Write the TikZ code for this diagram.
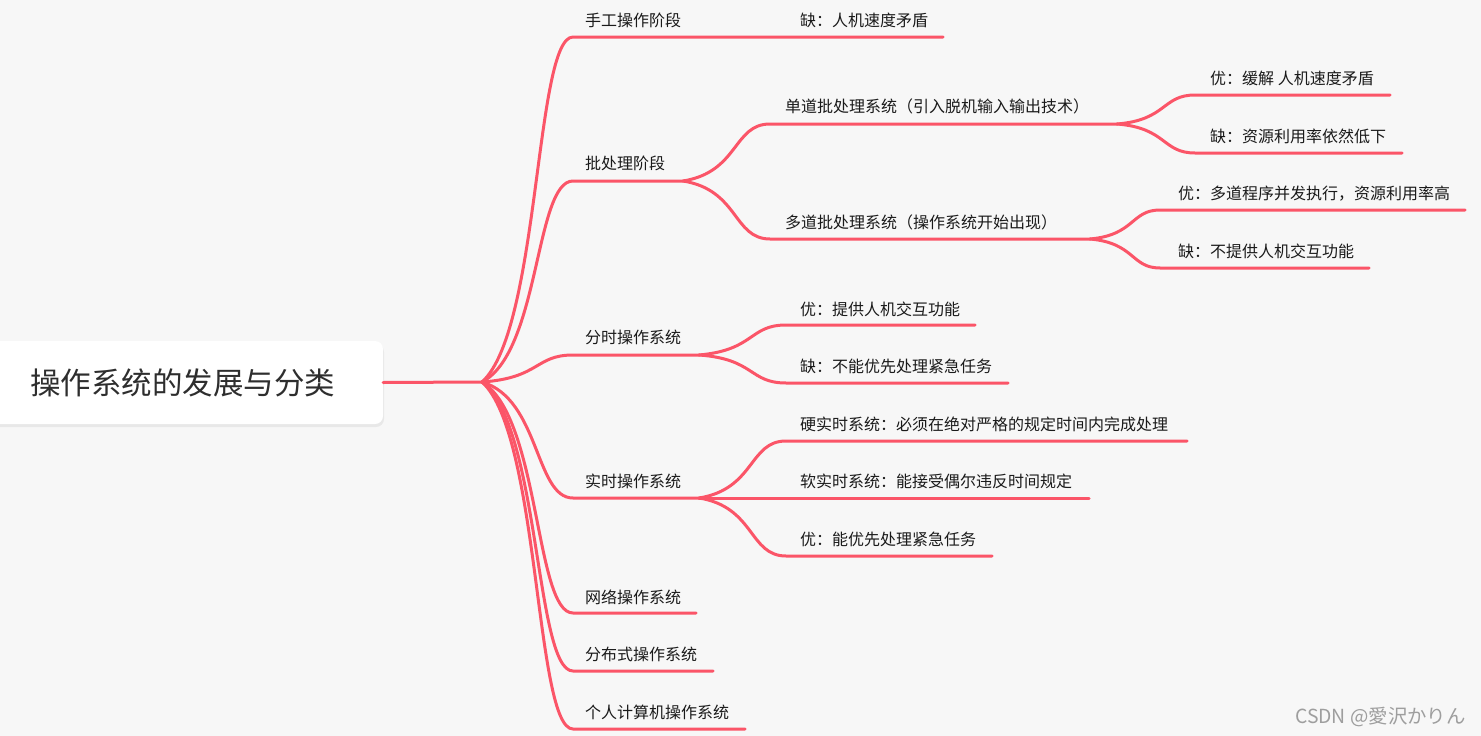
\documentclass[tikz,border=0pt]{standalone}
\usepackage{fontspec}
\setmainfont{Noto Sans CJK SC}
\newfontfamily\jpfont{Noto Sans CJK JP}
\definecolor{bg}{HTML}{F7F7F7}
\definecolor{branchc}{HTML}{FB5568}
\definecolor{txt}{HTML}{1A1A1A}
\begin{document}
\begin{tikzpicture}[x=1pt,y=-1pt,
  branch/.style={draw=branchc, line width=3pt, line cap=round},
  lbl/.style={anchor=base west, inner sep=0pt, text=txt, font=\fontsize{16}{16}\selectfont},
  rootbox/.style={fill=white, rounded corners=8pt, minimum width=400pt, minimum height=83pt, inner sep=0pt, text=black!82, font=\fontsize{30.5}{30.5}\selectfont},
  wmark/.style={anchor=base west, inner sep=0pt, text=black!38, font=\jpfont\fontsize{19.4}{19.4}\selectfont}]
\fill[bg] (0,0) rectangle (1481,736);
\useasboundingbox (0,0) rectangle (1481,736);
% root
\fill[black, opacity=0.06, rounded corners=8pt] (-20,344) rectangle (384,427);
\node[rootbox] (root) at (183,382.5) {操作系统的发展与分类};
\coordinate (hub) at (482,382);
% labels
\node[lbl] (n1) at (585,26) {手工操作阶段};
\node[lbl] (n1a) at (800,26) {缺：人机速度矛盾};
\node[lbl] (n2) at (585,169) {批处理阶段};
\node[lbl] (n21) at (785,112) {单道批处理系统（引入脱机输入输出技术）};
\node[lbl] (n211) at (1210,84) {优：缓解 人机速度矛盾};
\node[lbl] (n212) at (1210,142) {缺：资源利用率依然低下};
\node[lbl] (n22) at (785,228) {多道批处理系统（操作系统开始出现）};
\node[lbl] (n221) at (1178,199) {优：多道程序并发执行，资源利用率高};
\node[lbl] (n222) at (1178,257) {缺：不提供人机交互功能};
\node[lbl] (n3) at (585,343) {分时操作系统};
\node[lbl] (n31) at (800,315) {优：提供人机交互功能};
\node[lbl] (n32) at (800,372) {缺：不能优先处理紧急任务};
\node[lbl] (n4) at (585,487) {实时操作系统};
\node[lbl] (n41) at (800,430) {硬实时系统：必须在绝对严格的规定时间内完成处理};
\node[lbl] (n42) at (800,487) {软实时系统：能接受偶尔违反时间规定};
\node[lbl] (n43) at (800,545) {优：能优先处理紧急任务};
\node[lbl] (n5) at (585,603) {网络操作系统};
\node[lbl] (n6) at (585,660) {分布式操作系统};
\node[lbl] (n7) at (585,718) {个人计算机操作系统};
\node[wmark] (wm) at (1295,723) {CSDN @愛沢かりん};
% underline coordinates
\coordinate (s1) at (573,37); \coordinate (e1) at (943,37);
\coordinate (s2) at (573,181); \coordinate (f2) at (683,181);
\coordinate (s21) at (770,124); \coordinate (f21) at (1117,124);
\coordinate (s211) at (1195,95); \coordinate (e211) at (1390,95);
\coordinate (s212) at (1195,153); \coordinate (e212) at (1402,153);
\coordinate (s22) at (770,239); \coordinate (f22) at (1090,239);
\coordinate (s221) at (1160,210); \coordinate (e221) at (1465,210);
\coordinate (s222) at (1160,268); \coordinate (e222) at (1369,268);
\coordinate (s3) at (573,355); \coordinate (f3) at (699,355);
\coordinate (s31) at (786,325); \coordinate (e31) at (975,325);
\coordinate (s32) at (786,383); \coordinate (e32) at (1008,383);
\coordinate (s4) at (573,498); \coordinate (f4) at (699,498);
\coordinate (s41) at (786,441); \coordinate (e41) at (1187,441);
\coordinate (e42) at (1089,498);
\coordinate (s43) at (786,556); \coordinate (e43) at (992,556);
\coordinate (s5) at (573,613); \coordinate (e5) at (696,613);
\coordinate (s6) at (573,671); \coordinate (e6) at (713,671);
\coordinate (s7) at (573,729); \coordinate (e7) at (745,729);
% connectors
\draw[branch] (root.east) -- (hub);
\draw[branch] (hub) .. controls (540,330) and (535,37) .. (s1) -- (e1);
\draw[branch] (hub) .. controls (540,352) and (535,181) .. (s2) -- (f2);
\draw[branch] (hub) .. controls (540,378) and (535,355) .. (s3) -- (f3);
\draw[branch] (hub) .. controls (540,399) and (535,498) .. (s4) -- (f4);
\draw[branch] (hub) .. controls (540,417) and (535,613) .. (s5) -- (e5);
\draw[branch] (hub) .. controls (540,425) and (535,671) .. (s6) -- (e6);
\draw[branch] (hub) .. controls (540,434) and (535,729) .. (s7) -- (e7);
\draw[branch] (f2) .. controls (739,172) and (733,124) .. (s21) -- (f21);
\draw[branch] (f2) .. controls (739,190) and (733,239) .. (s22) -- (f22);
\draw[branch] (f21) .. controls (1167,120) and (1162,95) .. (s211) -- (e211);
\draw[branch] (f21) .. controls (1167,128) and (1162,153) .. (s212) -- (e212);
\draw[branch] (f22) .. controls (1135,235) and (1131,210) .. (s221) -- (e221);
\draw[branch] (f22) .. controls (1135,243) and (1131,268) .. (s222) -- (e222);
\draw[branch] (f3) .. controls (755,350) and (749,325) .. (s31) -- (e31);
\draw[branch] (f3) .. controls (755,359) and (749,383) .. (s32) -- (e32);
\draw[branch] (f4) .. controls (755,489) and (749,441) .. (s41) -- (e41);
\draw[branch] (f4) -- (e42);
\draw[branch] (f4) .. controls (755,507) and (749,556) .. (s43) -- (e43);
\end{tikzpicture}
\end{document}
